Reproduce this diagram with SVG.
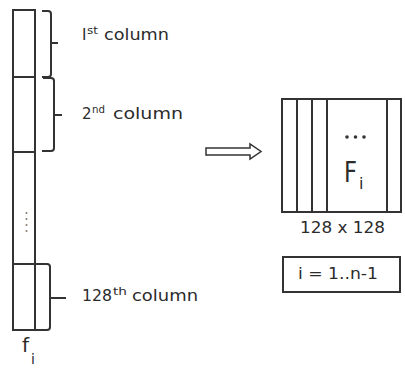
<svg xmlns="http://www.w3.org/2000/svg" width="405" height="371" viewBox="0 0 405 371">
<style>
.ln{fill:none;stroke:#333;stroke-width:2}
.bx{fill:#fff;stroke:#333;stroke-width:2}
.t{font-family:"DejaVu Sans","Liberation Sans",sans-serif;fill:#2b2b2b;font-size:15px}
.sup{font-size:10px}
</style>
<rect width="405" height="371" fill="#fff"/>
<g id="vector_f">
<rect class="bx" x="13" y="10" width="22" height="320"/>
<line class="ln" x1="13" y1="77" x2="35" y2="77"/>
<line class="ln" x1="13" y1="152" x2="35" y2="152"/>
<line class="ln" x1="13" y1="264" x2="35" y2="264"/>
<g fill="#8a7a6a">
<circle cx="26.5" cy="213" r="1"/>
<circle cx="26.5" cy="219" r="1"/>
<circle cx="26.5" cy="225" r="1"/>
<circle cx="26.5" cy="231" r="1"/>
</g>
<text class="t" x="22" y="352" style="font-size:20px">f</text>
<text class="t" x="31" y="364" style="font-size:14px">i</text>
</g>
<g id="connectors">
<path class="ln" d="M42,11 H48 Q51,11 51,14 V43 H58 M51,43 V74 Q51,77 48,77 H42"/>
<path class="ln" d="M43,78 H51 Q54,78 54,81 V115 H62 M54,115 V148 Q54,151 51,151 H42"/>
<path class="ln" d="M35,264 H47 Q50,264 50,267 V298 H66 M50,298 V327 Q50,330 47,330 H35"/>
<polygon points="206,148 250,148 250,144 261,151.5 250,159 250,155 206,155" fill="#fff" stroke="#333" stroke-width="1.5"/>
</g>
<g id="label_1">
<text class="t" x="82" y="40">I</text>
<text class="t sup" x="87" y="34" textLength="11" lengthAdjust="spacingAndGlyphs">st</text>
<text class="t" x="104" y="40" textLength="65" lengthAdjust="spacingAndGlyphs">column</text>
</g>
<g id="label_2">
<text class="t" x="82" y="119">2</text>
<text class="t sup" x="92" y="113" textLength="13" lengthAdjust="spacingAndGlyphs">nd</text>
<text class="t" x="113" y="119" textLength="70" lengthAdjust="spacingAndGlyphs">column</text>
</g>
<g id="label_128">
<text class="t" x="82" y="301" textLength="30" lengthAdjust="spacingAndGlyphs">128</text>
<text class="t sup" x="113" y="295" textLength="14" lengthAdjust="spacingAndGlyphs">th</text>
<text class="t" x="132" y="301" textLength="66" lengthAdjust="spacingAndGlyphs">column</text>
</g>
<g id="matrix_F">
<rect class="bx" x="282" y="99" width="119" height="113"/>
<line class="ln" x1="297" y1="99" x2="297" y2="212"/>
<line class="ln" x1="312" y1="99" x2="312" y2="212"/>
<line class="ln" x1="327" y1="99" x2="327" y2="212"/>
<line class="ln" x1="387" y1="99" x2="387" y2="212"/>
<g fill="#333">
<circle cx="347" cy="137" r="1.8"/>
<circle cx="355.5" cy="137" r="1.8"/>
<circle cx="364" cy="137" r="1.8"/>
</g>
<text class="t" x="344" y="182" style="font-size:28px" textLength="13" lengthAdjust="spacingAndGlyphs">F</text>
<text class="t" x="359" y="189" style="font-size:16px">i</text>
<text class="t" x="300" y="233" textLength="85" lengthAdjust="spacingAndGlyphs">128 x 128</text>
</g>
<g id="range_box">
<rect class="bx" x="283" y="257" width="117" height="35"/>
<text class="t" x="298" y="279" textLength="80" lengthAdjust="spacingAndGlyphs">i = 1..n-1</text>
</g>
</svg>
